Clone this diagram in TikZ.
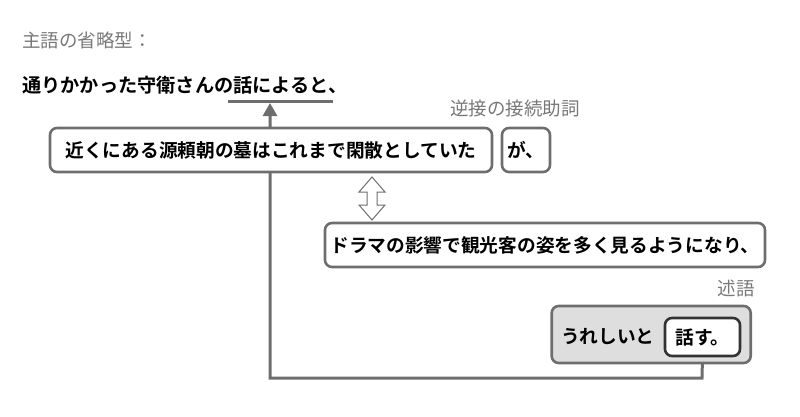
\documentclass[tikz,border=0pt]{standalone}
\usepackage{fontspec}
\setmainfont{Noto Sans CJK JP}
\newfontfamily\jpbold{Noto Sans CJK JP Bold}
\usetikzlibrary{arrows.meta,positioning,backgrounds}
\definecolor{linegray}{RGB}{110,110,110}
\definecolor{labelgray}{RGB}{120,120,120}
\definecolor{boxfill}{RGB}{222,222,222}

\tikzset{
  phrase/.style={draw=linegray,line width=2.6pt,rounded corners=7pt,fill=white,
    inner xsep=3pt,minimum height=44pt,font=\jpbold\fontsize{18.7}{22}\selectfont},
  note/.style={inner sep=0pt,text=labelgray,font=\fontsize{18.5}{21}\selectfont},
  link/.style={linegray,line width=3pt}
}

\begin{document}
\begin{tikzpicture}[x=1pt,y=-1pt]
  \useasboundingbox (0,0) rectangle (800,416);

  \node[note,anchor=west] (title) at (22,40) {主語の省略型：};
  \node[inner sep=0pt,anchor=west,font=\jpbold\fontsize{19.2}{22}\selectfont] (top) at (22,85) {通りかかった守衛さんの話によると、};
  \coordinate (ulL) at (228,101);
  \coordinate (ulR) at (333,101);
  \draw[link] (ulL) -- (ulR);

  \node[note,anchor=east] (conj) at (580,108) {逆接の接続助詞};
  \node[phrase,minimum width=442pt] (clause1) at (271,150) {近くにある源頼朝の墓はこれまで閑散としていた};
  \node[phrase,minimum width=48pt,inner xsep=2pt] (ga) at (526,150) {が、};

  \node[phrase,minimum width=440pt] (clause2) at (545,245) {ドラマの影響で観光客の姿を多く見るようになり、};

  \node[note,anchor=east] (pred) at (755,288) {述語};
  \node[phrase,fill=boxfill,minimum width=199pt,minimum height=57pt,anchor=east] (predbox) at (752,334.5) {};
  \node[phrase,minimum width=75pt,minimum height=38pt,inner xsep=2pt,draw=black!80] (hanasu) at (702.5,337) {話す。};
  \node[inner sep=0pt,anchor=east,font=\jpbold\fontsize{18.7}{22}\selectfont] (ureshii) at ([xshift=-9pt]hanasu.west) {うれしいと};

  % 話す → 話
  \coordinate (corner) at (702,378);
  \begin{scope}[on background layer]
    \draw[link,-{Triangle[length=13pt,width=14pt]}] (hanasu.south) -- (corner) -| (270,103);
  \end{scope}

  % hollow double arrow between clauses
  \draw[linegray,line width=1pt,fill=white]
    (372,177) -- (385,192) -- (377,192) -- (377,205) -- (385,205) -- (372,220)
    -- (359,205) -- (367,205) -- (367,192) -- (359,192) -- cycle;
\end{tikzpicture}
\end{document}
